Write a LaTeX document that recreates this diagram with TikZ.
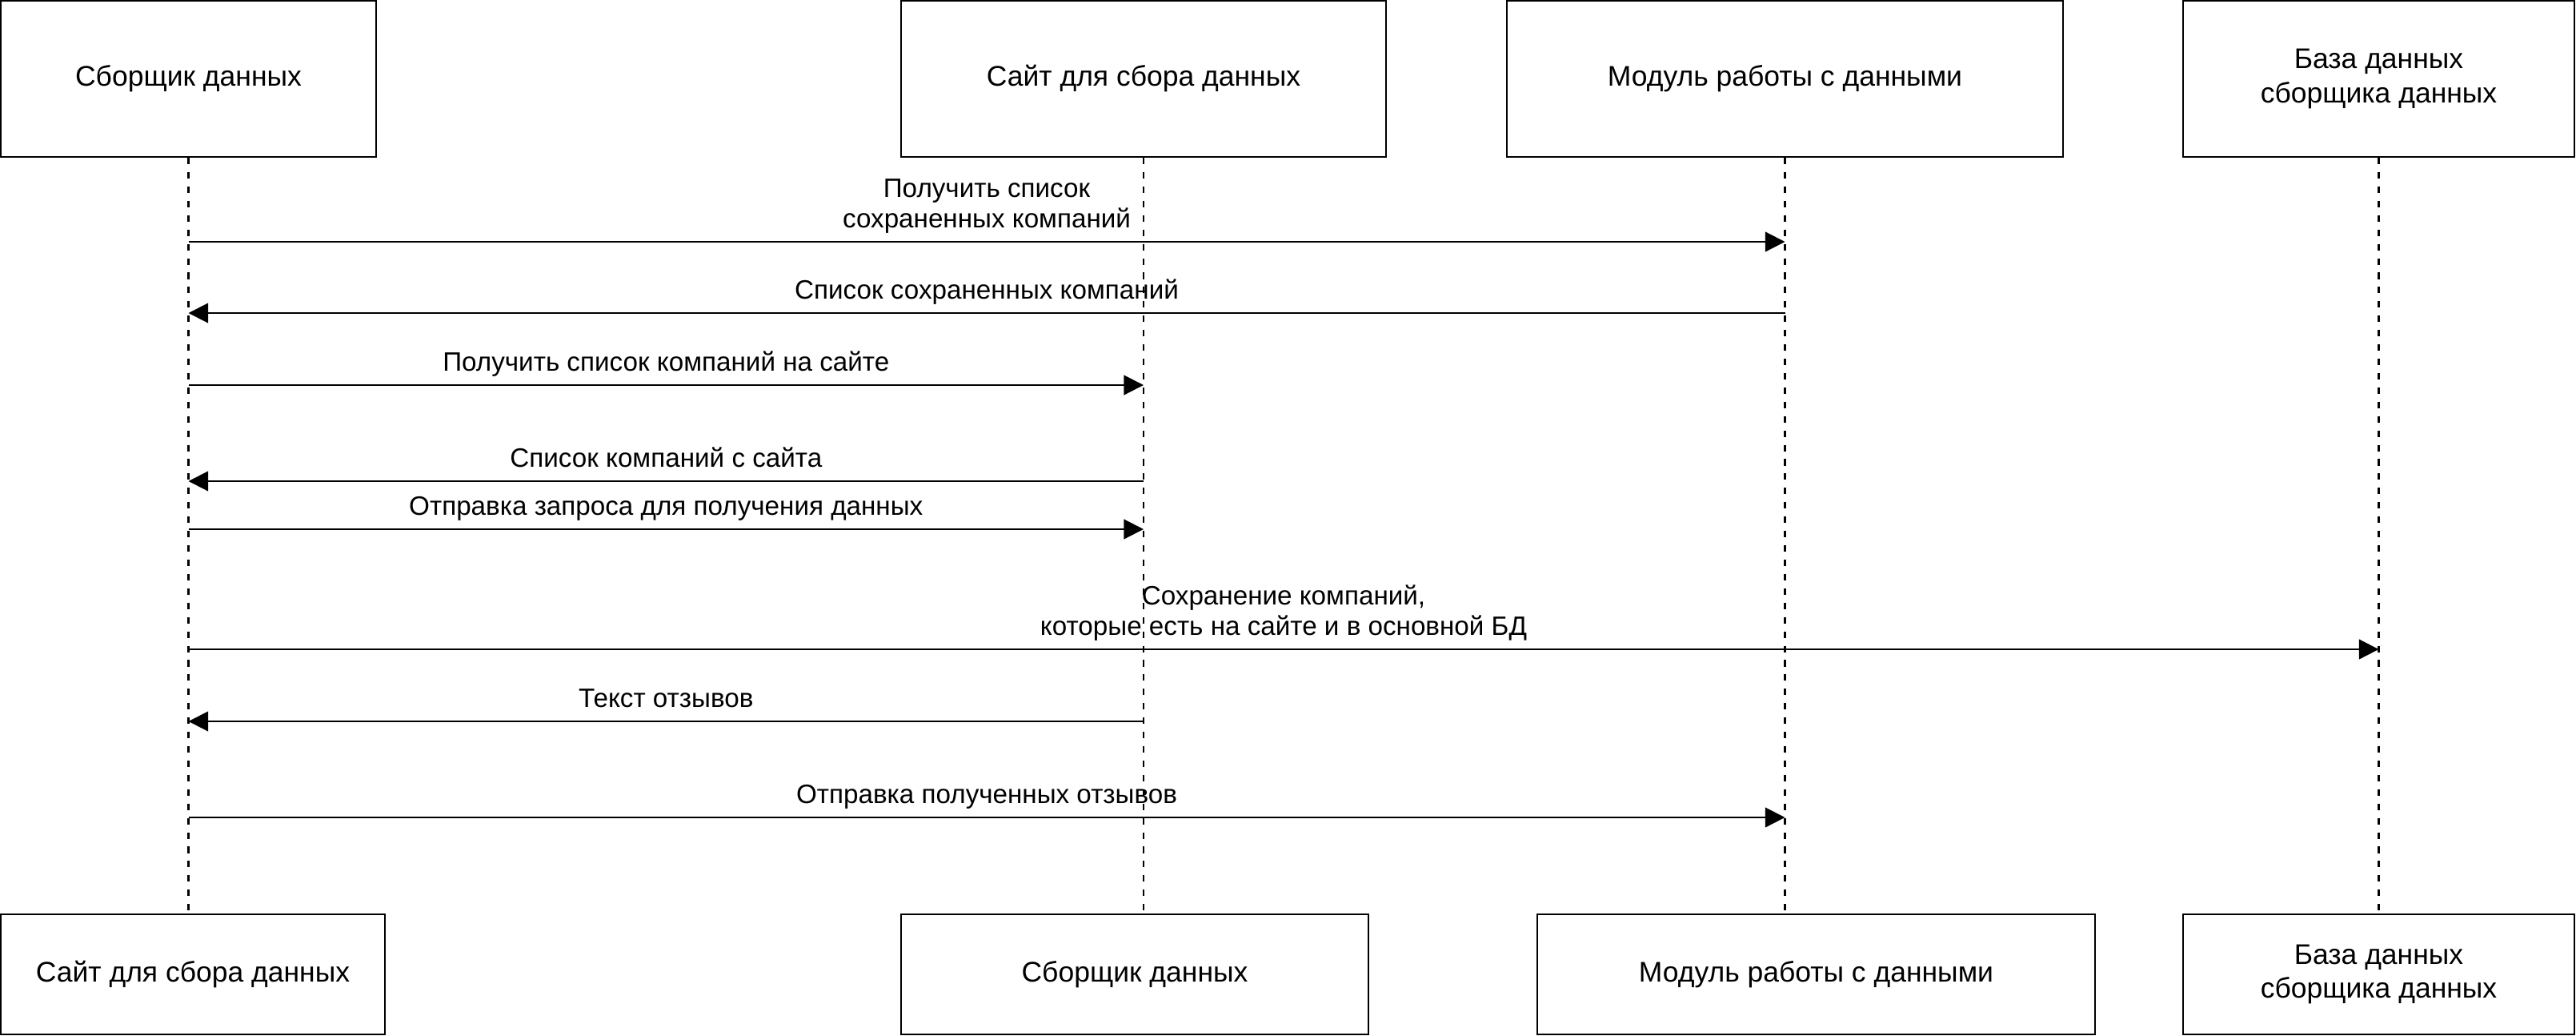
\documentclass[tikz,border=0pt]{standalone}
\usepackage{fontspec}
\setmainfont{Liberation Sans}
\usetikzlibrary{arrows.meta}
\usetikzlibrary{calc}

\begin{document}
\begin{tikzpicture}[
	box/.style={draw, line width=0.6pt, align=center, inner sep=0pt, font=\fontsize{10.1}{12}\selectfont},
	lifeline/.style={line width=0.6pt, dash pattern=on 2.3pt off 2.8pt},
	msg/.style={line width=0.6pt, -{Triangle[length=7pt,width=7pt]}},
	lbl/.style={above=0.095cm, inner sep=0pt, text depth=2pt, align=center, font=\fontsize{9.45}{10.8}\selectfont}]
	\useasboundingbox (0,0) rectangle (32.19,-12.93);

	% participants, top row
	\node[box, minimum width=4.69cm, minimum height=1.95cm] (top1) at (2.355,-0.985) {Сборщик данных};
	\node[box, minimum width=6.06cm, minimum height=1.95cm] (top2) at (14.29,-0.985) {Сайт для сбора данных};
	\node[box, minimum width=6.95cm, minimum height=1.95cm] (top3) at (22.305,-0.985) {Модуль работы с данными};
	\node[box, minimum width=4.89cm, minimum height=1.95cm] (top4) at (29.725,-0.985) {База данных\\сборщика данных};

	% participants, bottom row
	\node[box, minimum width=4.80cm, minimum height=1.50cm] (bot1) at (2.41,-12.17) {Сайт для сбора данных};
	\node[box, minimum width=5.84cm, minimum height=1.50cm] (bot2) at (14.18,-12.17) {Сборщик данных};
	\node[box, minimum width=6.97cm, minimum height=1.50cm] (bot3) at (22.695,-12.17) {Модуль работы с данными};
	\node[box, minimum width=4.89cm, minimum height=1.50cm] (bot4) at (29.725,-12.17) {База данных\\сборщика данных};

	\foreach \n in {1,...,4}
		\draw[lifeline] (top\n.south) -- (top\n.south |- bot\n.north);

	% messages
	\foreach \y/\a/\b/\txt in {
		3.02/top1/top3/{Получить список\\сохраненных компаний},
		3.91/top3/top1/{Список сохраненных компаний},
		4.81/top1/top2/{Получить список компаний на сайте},
		6.01/top2/top1/{Список компаний с сайта},
		6.61/top1/top2/{Отправка запроса для получения данных},
		8.11/top1/top4/{Сохранение компаний,\\которые есть на сайте и в основной БД},
		9.01/top2/top1/{Текст отзывов},
		10.21/top1/top3/{Отправка полученных отзывов}}
		\draw[msg] (\a |- 0,-\y) -- node[lbl] {\txt} (\b |- 0,-\y);

\end{tikzpicture}
\end{document}
